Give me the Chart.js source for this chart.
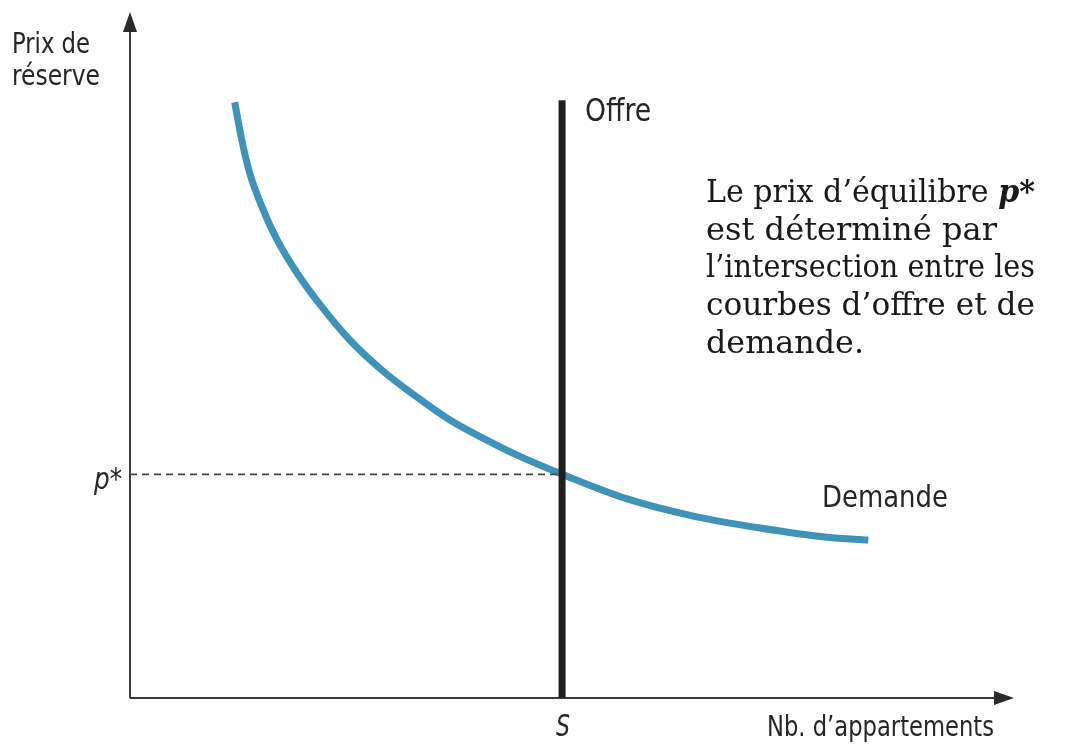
<!DOCTYPE html>
<html><head><meta charset="utf-8">
<script src="https://cdn.jsdelivr.net/npm/chart.js@4"></script>
<style>html,body{margin:0;padding:0;background:#fff;}#wrap{width:1070px;height:744px;position:relative;}</style>
</head><body><div id="wrap"><canvas id="c"></canvas></div>
<script>
// Data (arbitrary units 0-100 on both axes)
const demandeX = [11.9, 12.7, 13.6, 15.0, 16.7, 19.0, 21.6, 25.0, 28.75, 32.6, 36.4, 40.1, 44.0, 49.1, 56.5, 64.0, 71.6, 79.2, 83.9];
const demandeY = [87.1, 81.6, 76.75, 71.8, 67.0, 62.1, 57.5, 52.3, 47.8, 44.0, 40.6, 38.0, 35.5, 32.7, 29.1, 26.6, 24.85, 23.5, 23.1];
const offreS = 49.1;
const offreTop = 87.4;
const pStar = 32.7;
const xTickLabels = ["S"];
const yTickLabels = ["p*"];
const axisTitles = { x: "Nb. d\u2019appartements", y: ["Prix de", "r\u00e9serve"] };
const seriesLabels = { offre: "Offre", demande: "Demande" };
const noteLines = ["Le prix d\u2019\u00e9quilibre ", "est d\u00e9termin\u00e9 par", "l\u2019intersection entre les", "courbes d\u2019offre et de", "demande."];
const noteWidths = [329, 291, 329, 329, 158];

const SANS = '"Liberation Sans Narrow", "DejaVu Sans Condensed", "Roboto", sans-serif';
const SERIF = '"DejaVu Serif", "Liberation Serif", serif';

function fitText(ctx, text, x, y, width, align) {
  const w = ctx.measureText(text).width;
  const sx = width / w;
  ctx.save();
  ctx.textAlign = 'left';
  let left = x;
  if (align === 'right') left = x - width;
  else if (align === 'center') left = x - width / 2;
  ctx.translate(left, y);
  ctx.scale(sx, 1);
  ctx.fillText(text, 0, 0);
  ctx.restore();
}

const annot = {
  id: 'annot',
  beforeDatasetsDraw(chart) {
    const ctx = chart.ctx, xs = chart.scales.x, ys = chart.scales.y;
    const x0 = xs.getPixelForValue(0), y0 = ys.getPixelForValue(0);
    const top = chart.chartArea.top, right = chart.chartArea.right;
    ctx.save();
    ctx.strokeStyle = '#3c3c3c'; ctx.fillStyle = '#2a2a2a'; ctx.lineWidth = 2;
    ctx.beginPath(); ctx.moveTo(x0, y0); ctx.lineTo(x0, top + 10); ctx.stroke();
    ctx.beginPath(); ctx.moveTo(x0, y0); ctx.lineTo(right - 8, y0); ctx.stroke();
    ctx.beginPath(); ctx.moveTo(x0, top - 2); ctx.lineTo(x0 - 7, top + 18); ctx.lineTo(x0 + 7, top + 18); ctx.closePath(); ctx.fill();
    ctx.beginPath(); ctx.moveTo(right + 4, y0); ctx.lineTo(right - 16, y0 - 7); ctx.lineTo(right - 16, y0 + 7); ctx.closePath(); ctx.fill();
    ctx.restore();
  },
  afterDraw(chart) {
    const ctx = chart.ctx, xs = chart.scales.x, ys = chart.scales.y;
    ctx.save();
    ctx.fillStyle = '#262626';
    ctx.textBaseline = 'alphabetic';
    ctx.font = '29px ' + SANS;
    fitText(ctx, axisTitles.y[0], 12, 53, 78, 'left');
    fitText(ctx, axisTitles.y[1], 12, 85, 88, 'left');
    fitText(ctx, axisTitles.x, 994, 736, 227, 'right');
    ctx.font = 'italic 30px ' + SANS;
    fitText(ctx, xTickLabels[0], xs.getPixelForValue(offreS) + 1, 736, 14, 'center');
    fitText(ctx, yTickLabels[0], xs.getPixelForValue(0) - 8, ys.getPixelForValue(pStar) + 15, 28, 'right');
    ctx.font = '32px ' + SANS;
    fitText(ctx, seriesLabels.offre, xs.getPixelForValue(offreS) + 23, ys.getPixelForValue(offreTop) + 21, 66, 'left');
    ctx.font = '30px ' + SANS;
    fitText(ctx, seriesLabels.demande, 822, 507, 126, 'left');
    // note text
    ctx.fillStyle = '#1a1a1a';
    ctx.textAlign = 'left';
    const base = '31px ' + SERIF, bold = 'italic bold 31px ' + SERIF;
    let y = 202;
    noteLines.forEach((ln, i) => {
      ctx.font = base;
      const w1 = ctx.measureText(ln).width;
      let w2 = 0;
      if (i === 0) { ctx.font = bold; w2 = ctx.measureText('p*').width; ctx.font = base; }
      const sx = noteWidths[i] / (w1 + w2);
      ctx.save();
      ctx.translate(706, y);
      ctx.scale(sx, 1);
      ctx.fillText(ln, 0, 0);
      if (i === 0) { ctx.font = bold; ctx.fillText('p*', w1, 0); }
      ctx.restore();
      y += 37.7;
    });
    ctx.restore();
  }
};

new Chart(document.getElementById('c'), {
  type: 'line',
  data: {
    datasets: [
      { label: seriesLabels.offre, data: [{x: offreS, y: 0}, {x: offreS, y: offreTop}], borderColor: '#231f20', borderWidth: 7, pointRadius: 0, clip: false },
      { label: 'p*', data: [{x: 0, y: pStar}, {x: offreS, y: pStar}], borderColor: '#444', borderWidth: 1.6, borderDash: [7, 5], pointRadius: 0, clip: false },
      { label: seriesLabels.demande, data: demandeX.map((x, i) => ({x, y: demandeY[i]})), borderColor: '#3f93b8', borderWidth: 7, pointRadius: 0, cubicInterpolationMode: 'monotone', borderCapStyle: 'butt', clip: false }
    ]
  },
  options: {
    responsive: true, maintainAspectRatio: false, animation: false,
    layout: { padding: { left: 130, right: 60, top: 14, bottom: 46 } },
    plugins: { legend: { display: false }, tooltip: { enabled: false } },
    scales: {
      x: { type: 'linear', min: 0, max: 100, display: false },
      y: { type: 'linear', min: 0, max: 100, display: false }
    }
  },
  plugins: [annot]
});
</script></body></html>
